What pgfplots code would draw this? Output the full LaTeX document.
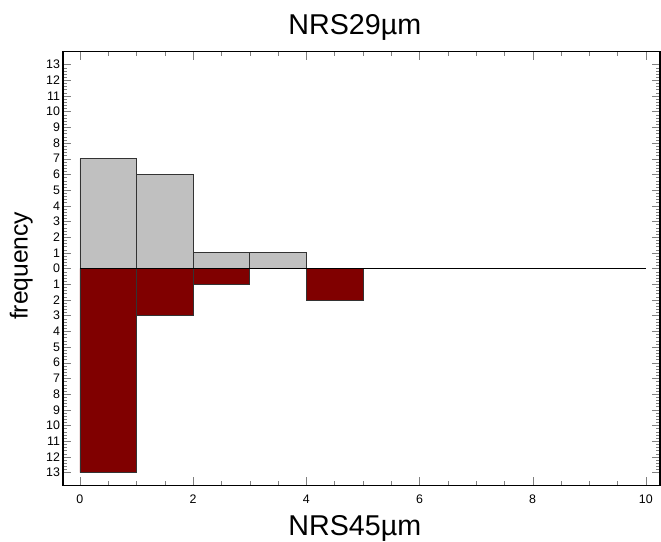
\documentclass[border=0pt]{standalone}
\usepackage{fontspec}
\setmainfont{Liberation Sans}
\usepackage{pgfplots}
\pgfplotsset{compat=1.18}
\usetikzlibrary{calc}
\definecolor{barGray}{HTML}{C0C0C0}
\definecolor{barRed}{HTML}{800000}

\begin{document}
\begin{tikzpicture}
\begin{axis}[
    name=ax,
    scale only axis,
    width=448pt,
    height=325pt,
    xmin=-0.3, xmax=10.25,
    ymin=-13.8, ymax=13.8,
    xtick={0,2,...,10},
    minor x tick num=3,
    ytick={-13,-12,...,13},
    minor y tick num=4,
    tick align=inside,
    major tick length=6pt,
    minor tick length=3pt,
    yticklabel={\pgfmathparse{abs(\tick)}\pgfmathprintnumber{\pgfmathresult}},
    /pgf/number format/assume math mode=true,
    tick label style={font=\fontsize{9.3}{10}\selectfont},
    xticklabel style={anchor=base, yshift=-14pt},
    yticklabel style={inner sep=2pt},
    title={NRS29µm},
    title style={font=\fontsize{21.5}{23}\selectfont, at={(axis description cs:0.5,1)},
                 anchor=base, xshift=-5pt, yshift=7pt, inner sep=0pt},
    xlabel={NRS45µm},
    xlabel style={font=\fontsize{21.5}{23}\selectfont, at={(axis description cs:0.5,0)},
                  anchor=base, xshift=-5pt, yshift=-37.5pt, inner sep=0pt},
    ylabel={frequency},
    ylabel style={font=\fontsize{18.5}{20}\selectfont, at={(axis description cs:0,0.5)},
                  anchor=south, xshift=2pt, yshift=22.5pt, inner sep=0pt},
    axis line style={line width=0.8pt},
]
% upper histogram
\addplot[ybar interval, fill=barGray, draw=black!80, line width=0.6pt] coordinates {
  (0,7) (1,6) (2,1) (3,1) (4,1)
};
% lower histogram
\addplot[ybar interval, fill=barRed, draw=black!80, line width=0.6pt] coordinates {
  (0,-13) (1,-3) (2,-1) (3,0) (4,-2) (5,-2)
};
% zero line
\addplot[black, line width=0.6pt] coordinates {(0,0) (10,0)};
\end{axis}
% page margins as in the reference
\path ($(ax.south west)+(-47.25pt,-42pt)$) rectangle ($(ax.north east)+(0.75pt,39pt)$);
\end{tikzpicture}
\end{document}
